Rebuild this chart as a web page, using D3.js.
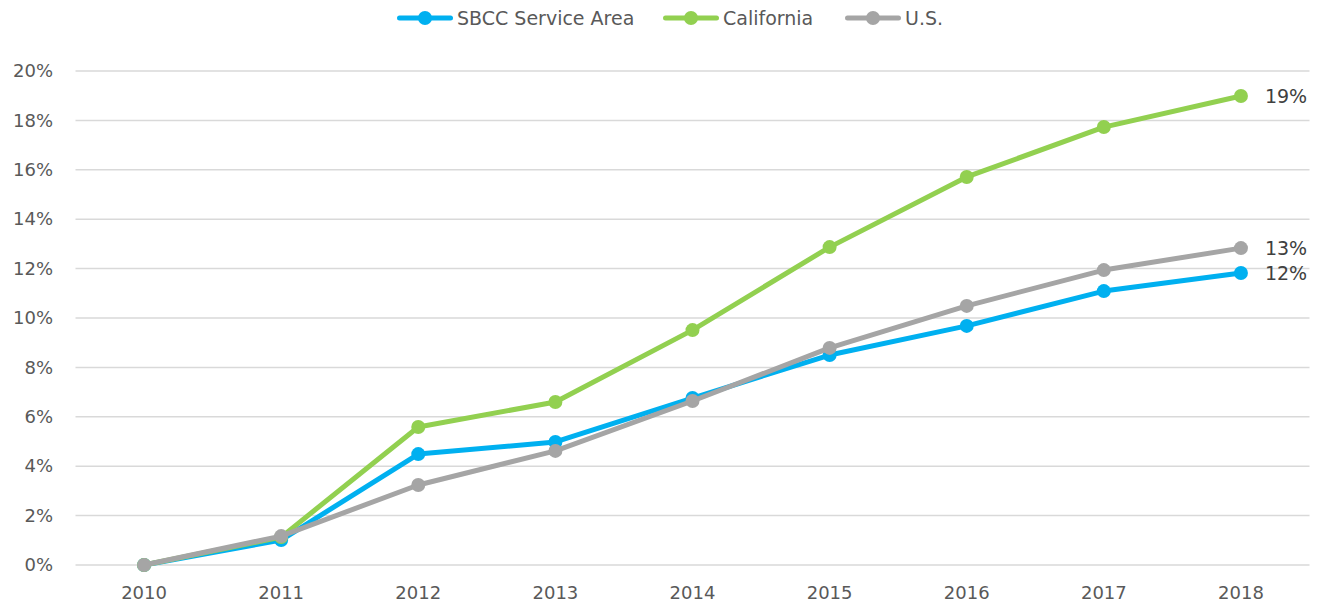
<!DOCTYPE html>
<html>
<head>
<meta charset="utf-8">
<script src="https://cdn.jsdelivr.net/npm/d3@7"></script>
<style>
  body { margin: 0; background: #fff; }
  svg text { font-family: "DejaVu Sans", "Open Sans", sans-serif; }
</style>
</head>
<body>
<svg id="chart" width="1323" height="608"></svg>
<script>
'use strict';

const years = ['2010', '2011', '2012', '2013', '2014', '2015', '2016', '2017', '2018'];
const sbcc = [0, 1.01, 4.49, 4.98, 6.76, 8.50, 9.68, 11.09, 11.82];
const california = [0, 1.13, 5.59, 6.60, 9.51, 12.87, 15.71, 17.73, 18.99];
const us = [0, 1.17, 3.24, 4.62, 6.64, 8.79, 10.49, 11.94, 12.83];
const yTicks = [0, 2, 4, 6, 8, 10, 12, 14, 16, 18, 20];
const seriesNames = ['SBCC Service Area', 'California', 'U.S.'];
const endLabels = ['12%', '19%', '13%'];

const colors = ['#00B0F0', '#92D050', '#A5A5A5'];
const series = [sbcc, california, us];

const svg = d3.select('#chart');

const x = d3.scaleBand()
    .domain(years)
    .range([75.5, 1309.5]);

const y = d3.scaleLinear()
    .domain([0, 20])
    .range([565, 71]);

// gridlines
svg.append('g')
    .selectAll('line')
    .data(yTicks)
    .join('line')
    .attr('x1', 75.5)
    .attr('x2', 1309.5)
    .attr('y1', d => y(d))
    .attr('y2', d => y(d))
    .attr('stroke', '#D9D9D9')
    .attr('stroke-width', 1.5);

// y axis labels
const yAxis = d3.axisLeft(y)
    .tickValues(yTicks)
    .tickSize(0)
    .tickPadding(0)
    .tickFormat(d => d + '%');
svg.append('g')
    .attr('transform', 'translate(53,0)')
    .call(yAxis)
    .call(g => g.select('.domain').remove())
    .selectAll('text')
    .attr('font-size', 18)
    .attr('fill', '#595959');

// x axis labels
const xAxis = d3.axisBottom(x)
    .tickSize(0)
    .tickPadding(0);
svg.append('g')
    .attr('transform', 'translate(0,586)')
    .call(xAxis)
    .call(g => g.select('.domain').remove())
    .selectAll('text')
    .attr('font-size', 18)
    .attr('fill', '#595959');

const cx = d => x(d) + x.bandwidth() / 2;

const line = d3.line()
    .x((d, i) => cx(years[i]))
    .y(d => y(d));

series.forEach(function(vals, s) {
    const g = svg.append('g');
    g.append('path')
        .datum(vals)
        .attr('d', line)
        .attr('fill', 'none')
        .attr('stroke', colors[s])
        .attr('stroke-width', 5)
        .attr('stroke-linejoin', 'round');
    g.selectAll('circle')
        .data(vals)
        .join('circle')
        .attr('cx', (d, i) => cx(years[i]))
        .attr('cy', d => y(d))
        .attr('r', 7)
        .attr('fill', colors[s]);
    g.append('text')
        .attr('x', cx(years[years.length - 1]) + 24)
        .attr('y', y(vals[vals.length - 1]))
        .attr('dy', '0.35em')
        .attr('font-size', 19)
        .attr('fill', '#404040')
        .text(endLabels[s]);
});

// legend
const legendX = [397, 663, 845];
const legend = svg.append('g');
seriesNames.forEach(function(name, s) {
    const lg = legend.append('g').attr('transform', 'translate(' + legendX[s] + ',18)');
    lg.append('line')
        .attr('x1', 2.5).attr('x2', 53.5)
        .attr('stroke', colors[s])
        .attr('stroke-width', 5)
        .attr('stroke-linecap', 'round');
    lg.append('circle')
        .attr('cx', 28)
        .attr('r', 7)
        .attr('fill', colors[s]);
    lg.append('text')
        .attr('x', 60)
        .attr('dy', '0.35em')
        .attr('font-size', 19)
        .attr('fill', '#595959')
        .text(name);
});
</script>
</body>
</html>
